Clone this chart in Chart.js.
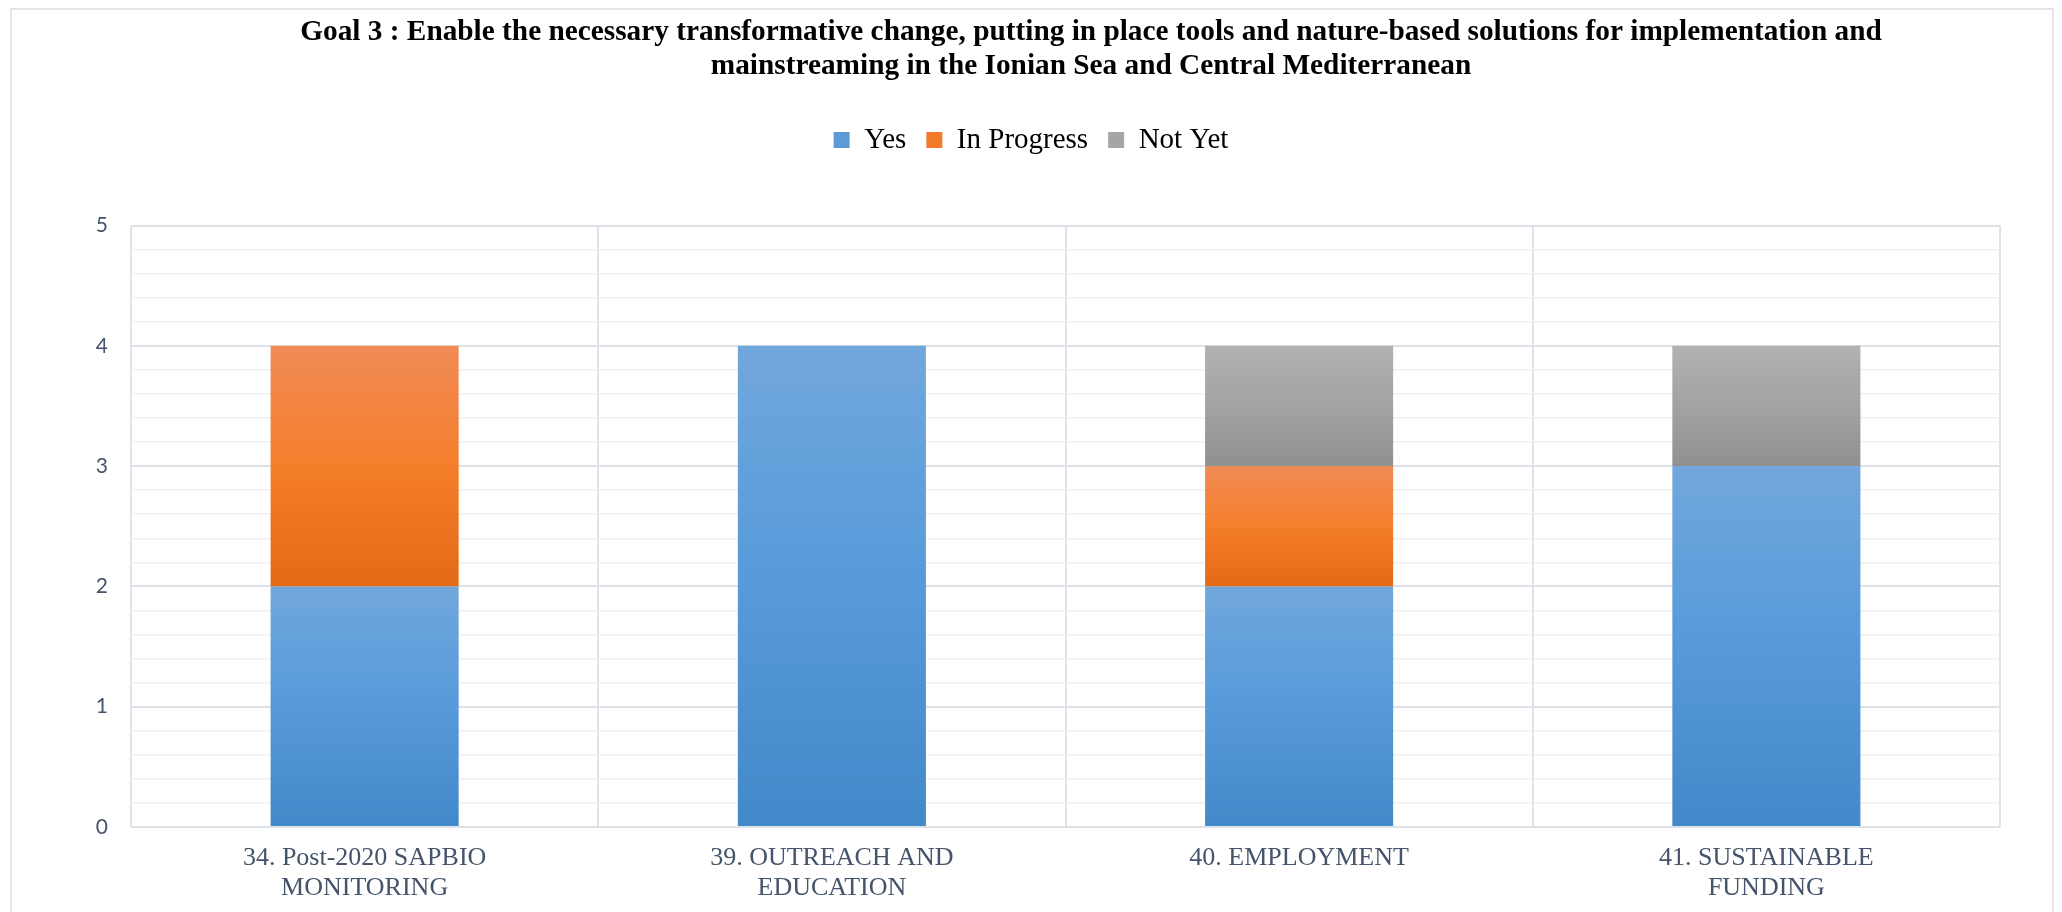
<!DOCTYPE html>
<html lang="en">
<head>
    <meta charset="UTF-8">
    <title>Goal 3 - Stacked bar chart</title>
    <script src="https://cdn.jsdelivr.net/npm/chart.js"></script>
    <style>
        html, body { margin: 0; padding: 0; background: #fff; overflow: hidden; }
        .frame {
            position: absolute; left: 10px; top: 8px;
            width: 2040px; height: 1000px;
            border: 2px solid #e2e5ea;
        }
        .wrap { position: absolute; left: 0; top: 0; width: 2062px; height: 912px; }
    </style>
</head>
<body>
    <div class="frame"></div>
    <div class="wrap"><canvas id="goalChart" width="2062" height="912"></canvas></div>

    <script>
        // Datos
        const titleLines = [
            'Goal 3 : Enable the necessary transformative change, putting in place tools and nature-based solutions for implementation and',
            'mainstreaming in the Ionian Sea and Central Mediterranean'
        ];
        const categories = [
            ['34. Post-2020 SAPBIO', 'MONITORING'],
            ['39. OUTREACH AND', 'EDUCATION'],
            '40. EMPLOYMENT',
            ['41. SUSTAINABLE', 'FUNDING']
        ];
        const seriesNames = ['Yes', 'In Progress', 'Not Yet'];
        const yesValues = [2, 4, 2, 3];
        const inProgressValues = [2, 0, 1, 0];
        const notYetValues = [0, 0, 1, 1];
        const yTicks = [0, 1, 2, 3, 4, 5];

        // gradient stops (top, middle, bottom) per series
        const blueStops = ['#71a7dc', '#569ada', '#4388c8'];
        const orangeStops = ['#f08b56', '#f57e2b', '#e36a17'];
        const grayStops = ['#b1b1b1', '#a3a3a3', '#909090'];
        const legendColors = ['#5b9bd5', '#f27a2a', '#a5a5a5'];

        function gradientFill(stops) {
            return function(ctx) {
                const chart = ctx.chart;
                if (!chart.chartArea || ctx.type !== 'data') return stops[1];
                let base = 0;
                for (let d = 0; d < ctx.datasetIndex; d++) {
                    base += chart.data.datasets[d].data[ctx.dataIndex];
                }
                const top = base + ctx.raw;
                const y = chart.scales.y;
                const y0 = y.getPixelForValue(top);
                const y1 = y.getPixelForValue(base);
                if (y1 - y0 < 1) return stops[1];
                const g = chart.ctx.createLinearGradient(0, y0, 0, y1);
                g.addColorStop(0, stops[0]);
                g.addColorStop(0.5, stops[1]);
                g.addColorStop(1, stops[2]);
                return g;
            };
        }

        // título dibujado a mano (centrado como en el original)
        const titlePlugin = {
            id: 'goalTitle',
            afterDraw(chart) {
                const c = chart.ctx;
                c.save();
                c.font = 'bold 29.3px "Liberation Serif", "Times New Roman", serif';
                c.fillStyle = '#000';
                c.textAlign = 'center';
                c.textBaseline = 'alphabetic';
                titleLines.forEach((t, i) => c.fillText(t, 1091, 40 + i * 33.5));
                c.restore();
            }
        };

        // espacio extra bajo la leyenda
        const legendSpace = {
            id: 'legendSpace',
            beforeInit(chart) {
                const fit = chart.legend.fit;
                chart.legend.fit = function() {
                    fit.bind(chart.legend)();
                    this.height = 120;
                };
            }
        };

        const isMajor = v => Math.abs(v - Math.round(v)) < 1e-6;

        new Chart(document.getElementById('goalChart'), {
            type: 'bar',
            data: {
                labels: categories,
                datasets: [
                    { label: seriesNames[0], data: yesValues, backgroundColor: gradientFill(blueStops) },
                    { label: seriesNames[1], data: inProgressValues, backgroundColor: gradientFill(orangeStops) },
                    { label: seriesNames[2], data: notYetValues, backgroundColor: gradientFill(grayStops) }
                ]
            },
            options: {
                responsive: false,
                animation: false,
                devicePixelRatio: 1,
                layout: { padding: { top: 105.5, left: 0, right: 0, bottom: 0 } },
                datasets: {
                    bar: { categoryPercentage: 1, barPercentage: 0.4025, borderWidth: 0 }
                },
                plugins: {
                    title: { display: false },
                    tooltip: { enabled: false },
                    legend: {
                        position: 'top',
                        labels: {
                            boxWidth: 16,
                            boxHeight: 16,
                            padding: 20,
                            color: '#000',
                            font: { family: '"Liberation Serif", "Times New Roman", serif', size: 29 },
                            generateLabels: chart => chart.data.datasets.map((ds, i) => ({
                                text: ds.label,
                                fillStyle: legendColors[i],
                                strokeStyle: legendColors[i],
                                lineWidth: 0,
                                hidden: false,
                                datasetIndex: i
                            }))
                        }
                    }
                },
                scales: {
                    x: {
                        stacked: true,
                        grid: { display: true, offset: true, color: '#e0e4e9', lineWidth: 2, drawTicks: false },
                        border: { display: false },
                        ticks: {
                            color: '#44546a',
                            padding: 16,
                            maxRotation: 0,
                            autoSkip: false,
                            font: { family: '"Liberation Serif", "Times New Roman", serif', size: 26, lineHeight: 1.17 }
                        },
                        afterFit(scale) { scale.height = 85; }
                    },
                    y: {
                        stacked: true,
                        min: yTicks[0],
                        max: yTicks[yTicks.length - 1],
                        grid: {
                            drawTicks: false,
                            color: c => isMajor(c.tick.value) ? '#dde2e8' : '#f0f0f0',
                            lineWidth: c => isMajor(c.tick.value) ? 2 : 1.5
                        },
                        border: { display: false },
                        ticks: {
                            stepSize: 0.2,
                            maxTicksLimit: 40,
                            autoSkip: false,
                            padding: 23,
                            color: '#44546a',
                            font: { family: 'Lato, "Open Sans", sans-serif', size: 21 },
                            callback: v => isMajor(v) ? Math.round(v) : ''
                        },
                        afterFit(scale) { scale.width = 131; }
                    },
                    yRight: {
                        position: 'right',
                        display: true,
                        grid: { display: false },
                        border: { display: false },
                        ticks: { display: false },
                        afterFit(scale) { scale.width = 62; }
                    }
                }
            },
            plugins: [titlePlugin, legendSpace]
        });
    </script>
</body>
</html>
